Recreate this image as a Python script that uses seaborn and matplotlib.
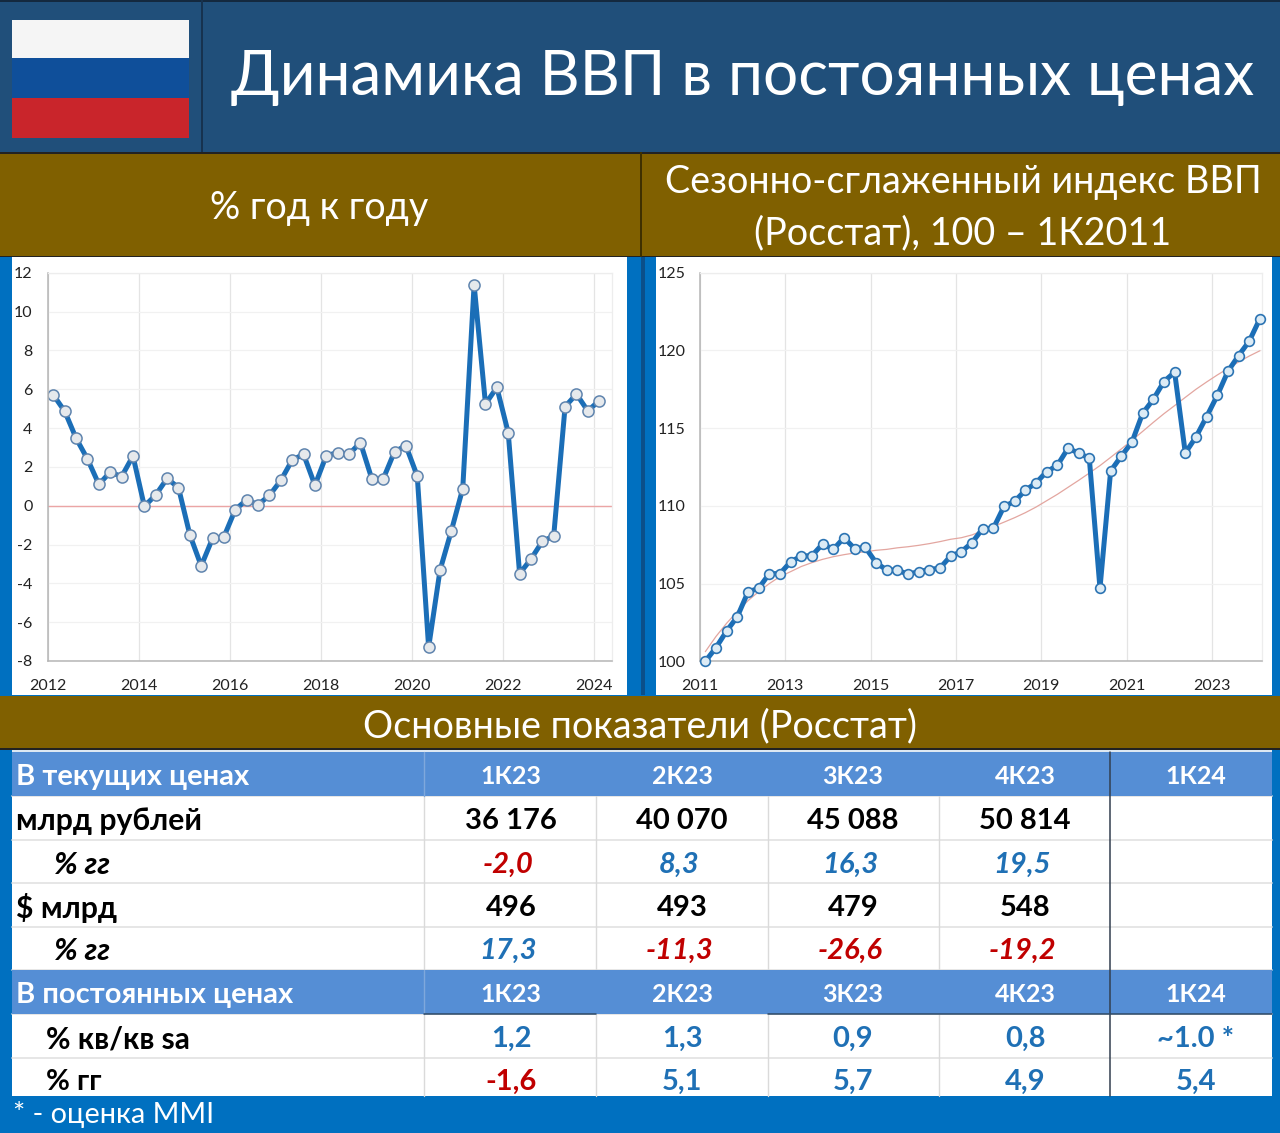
import numpy as np
import pandas as pd
import matplotlib
matplotlib.use("Agg")
import matplotlib.pyplot as plt
from matplotlib.patches import Rectangle
import seaborn as sns

# =========================
# DATA
# =========================
TITLE = "Динамика ВВП в постоянных ценах"
LEFT_HEAD = "% год к году"
RIGHT_HEAD = ["Сезонно-сглаженный индекс ВВП", "(Росстат), 100 – 1К2011"]
TABLE_HEAD = "Основные показатели (Росстат)"
NOTE = "* - оценка MMI"

yoy_values = [5.7, 4.86, 3.47, 2.4,
              1.1, 1.73, 1.5, 2.56,
              -0.03, 0.55, 1.4, 0.93,
              -1.5, -3.1, -1.68, -1.6,
              -0.2, 0.3, 0.05, 0.53,
              1.3, 2.35, 2.65, 1.05,
              2.58, 2.73, 2.65, 3.25,
              1.39, 1.37, 2.78, 3.09,
              1.53, -7.3, -3.33, -1.29,
              0.88, 11.38, 5.24, 6.09,
              3.76, -3.5, -2.75, -1.84,
              -1.56, 5.1, 5.75, 4.88,
              5.41]

index_values = [100.0, 100.88, 101.95, 102.87,
                104.46, 104.7, 105.64, 105.64,
                106.4, 106.77, 106.8, 107.55,
                107.2, 107.95, 107.25, 107.33,
                106.35, 105.87, 105.87, 105.6,
                105.77, 105.9, 106.0, 106.77,
                107.05, 107.63, 108.53, 108.55,
                109.96, 110.29, 111.0, 111.47,
                112.2, 112.6, 113.7, 113.4,
                113.06, 104.7, 112.24, 113.2,
                114.1, 115.95, 116.85, 118.0,
                118.6, 113.4, 114.43, 115.74,
                117.1, 118.66, 119.67, 120.6,
                122.05]

trend_values = [100.62, 101.6, 102.45, 103.2,
                103.9, 104.48, 105.0, 105.45,
                105.77, 106.1, 106.35, 106.56,
                106.73, 106.86, 106.97, 107.05,
                107.14, 107.2, 107.3, 107.37,
                107.46, 107.57, 107.7, 107.85,
                107.95, 108.13, 108.4, 108.67,
                108.95, 109.24, 109.56, 109.92,
                110.33, 110.74, 111.19, 111.64,
                112.11, 112.59, 113.12, 113.66,
                114.22, 114.79, 115.37, 115.93,
                116.45, 116.98, 117.5, 117.97,
                118.42, 118.84, 119.26, 119.64,
                119.98]

quarters = ["1К23", "2К23", "3К23", "4К23", "1К24"]
rub_bn = ["36 176", "40 070", "45 088", "50 814", ""]
rub_yoy = ["-2,0", "8,3", "16,3", "19,5", ""]
usd_bn = ["496", "493", "479", "548", ""]
usd_yoy = ["17,3", "-11,3", "-26,6", "-19,2", ""]
real_qoq = ["1,2", "1,3", "0,9", "0,8", "~1.0 *"]
real_yoy = ["-1,6", "5,1", "5,7", "4,9", "5,4"]

# =========================
# SETTINGS
# =========================
sns.set_theme(style="white")
plt.rcParams["font.family"] = ["Lato", "Open Sans", "DejaVu Sans"]
plt.rcParams["axes.unicode_minus"] = False

W, H = 1280, 1133
NAVY = "#204F7A"
GOLD = "#806000"
BLUE = "#0070C0"
HEAD_BLUE = "#558ED5"
LINE_BLUE = "#1B6EB7"
CELL_BLUE = "#1F70B5"
CELL_RED = "#C00000"

fig = plt.figure(figsize=(W / 100, H / 100), dpi=100, facecolor=BLUE)
bg = fig.add_axes([0, 0, 1, 1])
bg.set_xlim(0, W)
bg.set_ylim(H, 0)
bg.axis("off")


def box(x0, y0, x1, y1, color, z=1):
    bg.add_patch(Rectangle((x0, y0), x1 - x0, y1 - y0, facecolor=color, edgecolor="none", zorder=z))


def pixel_axes(x0, y0, x1, y1):
    return fig.add_axes([x0 / W, 1 - y1 / H, (x1 - x0) / W, (y1 - y0) / H])


def banner_text(x, y, s, size=27.2):
    bg.text(x, y, s, color="white", fontsize=size, ha="center", va="center", zorder=3)


# =========================
# BANNERS
# =========================
box(0, 0, W, 152, NAVY)
box(0, 0, W, 1.5, "#14293F", 2)
box(201, 0, 203, 152, "#16324F", 2)
box(12, 20, 189, 58, "#F5F5F5", 2)
box(12, 58, 189, 98, "#0F4F9A", 2)
box(12, 98, 189, 138, "#C9252B", 2)
banner_text(743, 78, TITLE, 44.7)

box(0, 152, W, 257, GOLD)
box(0, 152, W, 153.5, "#222222", 2)
box(0, 255.5, W, 257, "#222222", 2)
box(640, 152, 642, 257, "#3F3000", 2)
banner_text(319, 208, LEFT_HEAD)
banner_text(963, 182, RIGHT_HEAD[0])
banner_text(963, 233, RIGHT_HEAD[1])

box(12, 257, 627, 695, "white")
box(656, 257, 1272, 695, "white")
box(641, 257, 645, 695, "#0B4F8A", 2)

box(0, 696, W, 749, GOLD)
box(0, 748, W, 749.5, "#222222", 2)
banner_text(640, 726, TABLE_HEAD)


# =========================
# CHARTS
# =========================
def style_chart(ax, ymin, ymax, ystep, xmin, xmax, xticks, ypad):
    ax.set_xlim(xmin, xmax)
    ax.set_ylim(ymin, ymax)
    ax.set_xticks(xticks)
    ax.set_yticks(np.arange(ymin, ymax + 1, ystep))
    ax.set_xlabel("")
    ax.set_ylabel("")
    ax.grid(axis="x", color="#E4E4E4", linewidth=0.9)
    ax.grid(axis="y", color="#F1F1F1", linewidth=0.9)
    ax.set_axisbelow(True)
    ax.tick_params(axis="y", labelsize=11.5, length=4, width=0.8, color="#BBBBBB", pad=ypad, labelcolor="#222222")
    ax.tick_params(axis="x", labelsize=11.5, length=0, pad=13, labelcolor="#222222")
    for side in ["top", "right"]:
        ax.spines[side].set_color("#EDEDED")
        ax.spines[side].set_linewidth(0.9)
    for side in ["left", "bottom"]:
        ax.spines[side].set_color("#B5B5B5")
        ax.spines[side].set_linewidth(1.1)


# Excel puts each quarter in the middle of its date span
yoy_df = pd.DataFrame({"x": [2012 + (i + 0.5) / 4 for i in range(len(yoy_values))], "y": yoy_values})
index_df = pd.DataFrame({"x": [2011 + (i + 0.5) / 4 for i in range(len(index_values))],
                         "y": index_values, "trend": trend_values})

ax1 = pixel_axes(47.7, 272.7, 611.7, 661)
style_chart(ax1, -8, 12, 2, 2012, 2024.4, list(range(2012, 2025, 2)), 7)
ax1.axhline(0, color="#EBA5A5", linewidth=1.0, zorder=1.5)
sns.lineplot(data=yoy_df, x="x", y="y", ax=ax1, color=LINE_BLUE, linewidth=3.6, marker="o",
             markersize=8, markerfacecolor="#E6E9EC", markeredgecolor="#5F84AE", markeredgewidth=1.1)
ax1.set_xlabel("")
ax1.set_ylabel("")

ax2 = pixel_axes(700, 272.7, 1262.3, 661.3)
style_chart(ax2, 100, 125, 5, 2011, 2024.18, list(range(2011, 2024, 2)), 6.5)
sns.lineplot(data=index_df, x="x", y="trend", ax=ax2, color="#E3A6A0", linewidth=0.9, zorder=2)
sns.lineplot(data=index_df, x="x", y="y", ax=ax2, color=LINE_BLUE, linewidth=3.6, marker="o",
             markersize=7, markerfacecolor="#DCEBF5", markeredgecolor="#2C74B3", markeredgewidth=1.2,
             zorder=3, clip_on=False)
ax2.set_xlabel("")
ax2.set_ylabel("")

# =========================
# TABLE
# =========================
col_edges = [424, 596, 768, 939, 1110]
col_mid = [511, 682, 853, 1025, 1196]
row_edges = [752, 796, 840, 883, 927, 970, 1014, 1058, 1096]
TXT = 21

box(12, 752, 1272, 1096, "white")
box(12, 750, 1272, 752, "#DDE8F2")
box(12, 752, 1272, 796, HEAD_BLUE, 2)
box(12, 970, 1272, 1014, HEAD_BLUE, 2)

for y in row_edges[1:-1]:
    bg.plot([12, 1272], [y, y], color="#E2E2E2", linewidth=1.2, zorder=1.5)
for x in col_edges[:-1]:
    bg.plot([x, x], [796, 970], color="#DADADA", linewidth=1.0, zorder=1.5)
    bg.plot([x, x], [1014, 1096], color="#DADADA", linewidth=1.0, zorder=1.5)
bg.plot([424, 424], [752, 796], color="#7FA8DC", linewidth=1.0, zorder=3)
bg.plot([424, 424], [970, 1014], color="#7FA8DC", linewidth=1.0, zorder=3)
bg.plot([1110, 1110], [752, 1096], color="#333F4F", linewidth=1.1, zorder=3)
bg.plot([424, 596], [1014, 1014], color="#2F4A66", linewidth=1.1, zorder=3)
bg.plot([768, 1272], [1014, 1014], color="#2F4A66", linewidth=1.1, zorder=3)


def cell_color(value):
    return CELL_RED if value.startswith("-") else CELL_BLUE


def cell(x, y, s, color="black", size=TXT, style="normal", ha="center"):
    bg.text(x, y, s, color=color, fontsize=size, fontweight="bold", fontstyle=style,
            ha=ha, va="center", zorder=4)


cell(16, 777, "В текущих ценах", "white", ha="left")
cell(16, 995, "В постоянных ценах", "white", ha="left")
cell(16, 821, "млрд рублей", size=21.7, ha="left")
cell(54, 865, "% гг", size=22.5, style="italic", ha="left")
cell(16, 908, "$ млрд", size=21.8, ha="left")
cell(54, 951, "% гг", size=22.5, style="italic", ha="left")
cell(46, 1039, "% кв/кв sa", size=21.5, ha="left")
cell(46, 1082, "% гг", ha="left")

for i, x in enumerate(col_mid):
    cell(x, 776, quarters[i], "white", size=18)
    cell(x, 994, quarters[i], "white", size=18)
    cell(x, 821, rub_bn[i])
    cell(x - 3, 865, rub_yoy[i], cell_color(rub_yoy[i]), style="italic")
    cell(x, 908, usd_bn[i])
    cell(x - 3, 951, usd_yoy[i], cell_color(usd_yoy[i]), style="italic")
    cell(x, 1039, real_qoq[i], cell_color(real_qoq[i]))
    cell(x, 1082, real_yoy[i], cell_color(real_yoy[i]))

bg.text(13, 1115, NOTE, color="white", fontsize=20.8, ha="left", va="center", zorder=4)

fig.savefig("out.png", dpi=100, facecolor=fig.get_facecolor())
plt.close(fig)
print("saved out.png")
